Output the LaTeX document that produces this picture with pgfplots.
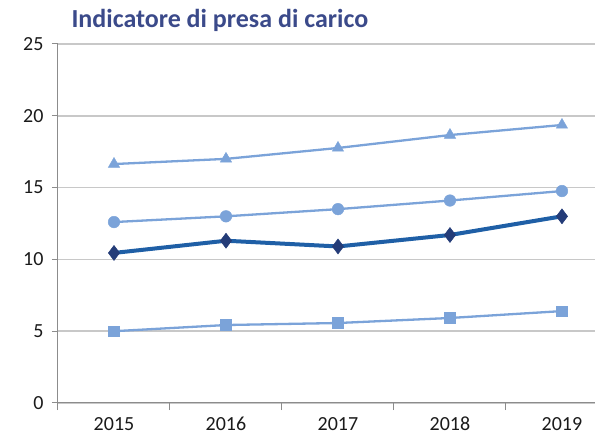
\documentclass[border=0pt]{standalone}
\usepackage{fontspec}
\setmainfont{Carlito}
\usepackage{pgfplots}
\pgfplotsset{compat=1.18}
\definecolor{lightblue}{HTML}{7BA3D9}
\definecolor{darkline}{HTML}{1F5FA6}
\definecolor{darkmark}{HTML}{243C78}
\definecolor{titlecol}{HTML}{3B4A8A}
\definecolor{gridgray}{HTML}{C8C8C8}
\definecolor{axisgray}{HTML}{8C8C8C}
\definecolor{labelcol}{HTML}{1A1A1A}
\begin{document}
\begin{tikzpicture}[x=1pt,y=1pt]
\begin{axis}[
  at={(58pt,36pt)}, anchor=south west,
  scale only axis, width=537pt, height=359pt,
  xmin=-0.5, xmax=4.295, ymin=0, ymax=25,
  ytick={0,5,...,25},
  xtick={0,1,2,3,4},
  xticklabels={2015,2016,2017,2018,2019},
  minor xtick={-0.5,0.5,1.5,2.5,3.5},
  axis x line*=bottom, axis y line*=left,
  axis line style={draw=axisgray, line width=1pt},
  x axis line style={-}, y axis line style={-},
  ymajorgrids, grid style={draw=gridgray, line width=1.5pt},
  xminorgrids=false, xmajorgrids=false,
  tick align=outside,
  major tick length=6pt, minor tick length=7pt,
  xtick style={draw=none},
  minor x tick style={draw=axisgray, line width=1pt},
  ytick style={draw=axisgray, line width=1pt},
  ticklabel style={font=\fontsize{20}{22}\selectfont, text=labelcol},
  /pgf/number format/assume math mode=true,
  yticklabel style={xshift=-5pt},
  xticklabel style={yshift=-5pt, text height=13pt, text depth=0pt},
  clip=false,
]
\addplot[color=lightblue, line width=2.3pt, mark=triangle*, mark size=6.5pt, mark options={fill=lightblue, draw=lightblue, line width=0.5pt}]
  coordinates {(0,16.64) (1,17.0) (2,17.76) (3,18.66) (4,19.36)};
\addplot[color=lightblue, line width=2.3pt, mark=*, mark size=5.8pt, mark options={fill=lightblue, draw=lightblue, line width=0.5pt}]
  coordinates {(0,12.6) (1,13.0) (2,13.5) (3,14.1) (4,14.76)};
\addplot[color=darkline, line width=4pt, mark=diamond*, mark size=7.5pt, mark options={fill=darkmark, draw=darkmark, line width=0.5pt}]
  coordinates {(0,10.45) (1,11.3) (2,10.9) (3,11.7) (4,13.0)};
\addplot[color=lightblue, line width=2.3pt, mark=square*, mark size=5.3pt, mark options={fill=lightblue, draw=lightblue, line width=0.5pt}]
  coordinates {(0,5.0) (1,5.43) (2,5.57) (3,5.92) (4,6.4)};
\end{axis}
\node[anchor=west, text=titlecol, font=\fontsize{26}{30}\selectfont\bfseries] at (68pt,419pt) {Indicatore di presa di carico};
\pgfresetboundingbox
\path (0,0) rectangle (600pt,439pt);
\end{tikzpicture}
\end{document}
